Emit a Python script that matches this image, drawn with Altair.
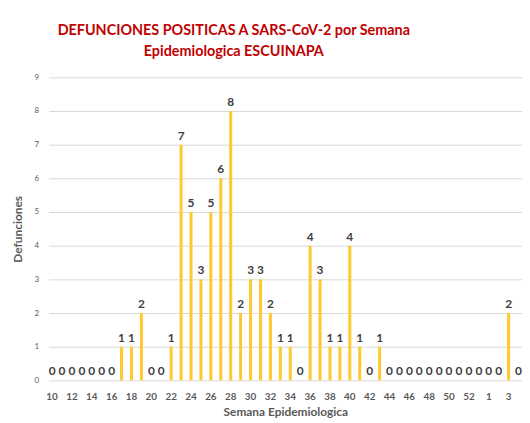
import altair as alt
import pandas as pd

semanas = ["10", "11", "12", "13", "14", "15", "16", "17", "18", "19",
           "20", "21", "22", "23", "24", "25", "26", "27", "28", "29",
           "30", "31", "32", "33", "34", "35", "36", "37", "38", "39",
           "40", "41", "42", "43", "44", "45", "46", "47", "48", "49",
           "50", "51", "52", "53", "1", "2", "3", "4"]
defunciones = [0, 0, 0, 0, 0, 0, 0, 1, 1, 2,
               0, 0, 1, 7, 5, 3, 5, 6, 8, 2,
               3, 3, 2, 1, 1, 0, 4, 3, 1, 1,
               4, 1, 0, 1, 0, 0, 0, 0, 0, 0,
               0, 0, 0, 0, 0, 0, 2, 0]
etiquetas_x = semanas[::2]

df = pd.DataFrame({"semana": semanas, "defunciones": defunciones})

FONT = "Lato"

base = alt.Chart(df).encode(
    x=alt.X("semana:N", sort=semanas,
            scale=alt.Scale(paddingInner=0.7, paddingOuter=0.2),
            axis=alt.Axis(values=etiquetas_x, labelAngle=0, ticks=False, domain=False,
                          labelFont=FONT, labelFontSize=10, labelFontWeight="bold",
                          labelColor="#595959", labelPadding=11,
                          title="Semana Epidemiologica", titleFont=FONT, titleFontSize=12,
                          titleFontWeight="bold", titleColor="#595959", titlePadding=5)),
    y=alt.Y("defunciones:Q", scale=alt.Scale(domain=[0, 9], nice=False),
            axis=alt.Axis(values=list(range(10)), ticks=False, domain=False,
                          labelFont=FONT, labelFontSize=8, labelColor="#595959",
                          labelPadding=10, gridColor="#d9d9d9",
                          title="Defunciones", titleFont=FONT, titleFontSize=12,
                          titleFontWeight="bold", titleColor="#595959", titlePadding=10)),
)

bars = base.mark_bar(color="#FFC82E")
labels = base.mark_text(dy=-9, font=FONT, fontSize=12, fontWeight="bold",
                        color="#404040").encode(text="defunciones:Q")

chart = (bars + labels).properties(
    width=478, height=306,
    title=alt.TitleParams(["DEFUNCIONES POSITICAS A SARS-CoV-2 por Semana",
                           "Epidemiologica ESCUINAPA"],
                          color="#C00000", font=FONT, fontSize=14.5, fontWeight="bold",
                          anchor="middle", dx=-52, offset=14, lineHeight=21),
    padding={"left": 3, "top": 13, "right": 0, "bottom": 0},
).configure_view(stroke=None).configure_axisX(grid=False)

chart.save("out.html", embed_options={"renderer": "svg", "actions": False})
